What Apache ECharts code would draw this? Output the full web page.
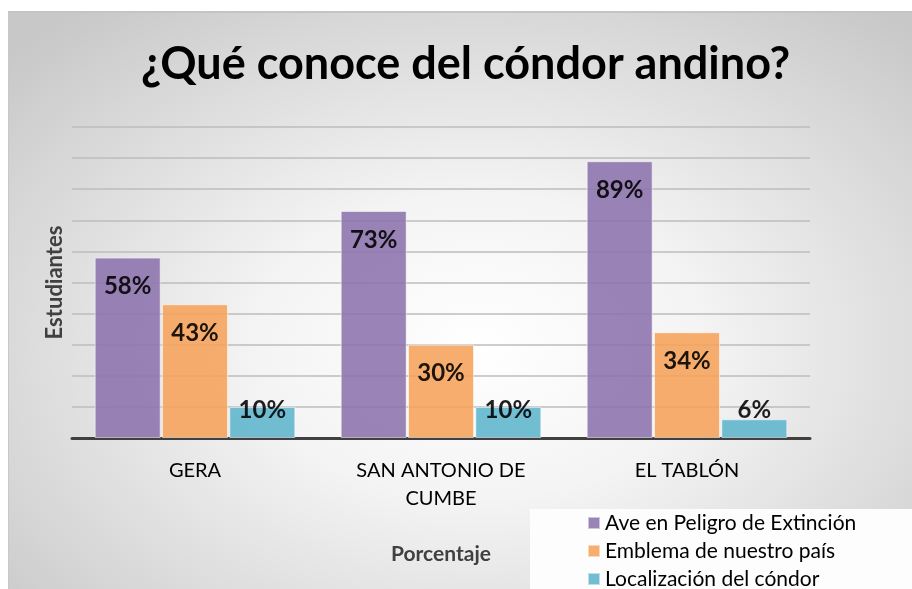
<!DOCTYPE html>
<html>
<head>
<meta charset="utf-8">
<script src="https://cdn.jsdelivr.net/npm/echarts@6/dist/echarts.min.js"></script>
<style>
  html, body { margin: 0; padding: 0; background: #fff; }
  #wrap { position: relative; width: 912px; height: 589px; overflow: hidden; }
  #bg {
    position: absolute; left: 8px; top: 11px; right: 0; bottom: 0;
    border-top: 2px solid #c4c4c4; border-left: 1px solid #c8c8c8;
    background: radial-gradient(ellipse 70% 75% at 52% 58%, #ffffff 0%, #f4f4f4 35%, #d6d6d6 80%, #c8c8c8 100%);
  }
  #main { position: absolute; left: 0; top: 0; width: 912px; height: 589px; }
</style>
</head>
<body>
<div id="wrap">
  <div id="bg"></div>
  <div id="main"></div>
</div>
<script>
// datos del gráfico
var categorias = ['GERA', 'SAN ANTONIO DE\nCUMBE', 'EL TABLÓN'];
var seriesNombres = ['Ave en Peligro de Extinción', 'Emblema de nuestro país', 'Localización del cóndor'];
var avePeligro = [58, 73, 89];
var emblema = [43, 30, 34];
var localizacion = [10, 10, 6];
var colores = ['#8c72ad', '#f5a25a', '#5db4cb'];

var chart = echarts.init(document.getElementById('main'), null, { renderer: 'canvas' });

var pxPorUnidad = 311 / 100; // alto del área / máximo del eje

// etiqueta dentro del extremo; si la barra es corta, se queda arriba del eje
function datos(valores) {
  return valores.map(function (v) {
    var h = v * pxPorUnidad;
    return {
      value: v,
      label: { distance: Math.min(17, h - 40) }
    };
  });
}

function serie(nombre, valores, color) {
  return {
    name: nombre,
    type: 'bar',
    barWidth: 66,
    barGap: '2%',
    data: datos(valores),
    itemStyle: {
      color: color,
      opacity: 0.88,
      borderColor: 'rgba(255,255,255,0.6)',
      borderWidth: 1
    },
    label: {
      show: true,
      position: 'insideTop',
      formatter: '{c}%',
      color: '#000',
      fontFamily: 'Lato',
      fontWeight: 'bold',
      fontSize: 24
    }
  };
}

var option = {
  backgroundColor: 'transparent',
  animation: false,
  title: {
    text: '¿Qué conoce del cóndor andino?',
    left: 136,
    top: 37,
    textStyle: {
      fontFamily: 'Lato',
      fontWeight: 'bold',
      fontSize: 45,
      color: '#000'
    }
  },
  graphic: [{
    type: 'rect',
    shape: { x: 530, y: 509, width: 382, height: 80 },
    style: { fill: '#fdfdfd' }
  }],
  legend: {
    orient: 'vertical',
    left: 587,
    top: 512,
    height: 120,
    padding: 0,
    itemWidth: 12,
    itemHeight: 12,
    itemGap: 6,
    icon: 'rect',
    data: seriesNombres,
    textStyle: {
      fontFamily: 'Lato',
      fontSize: 21,
      lineHeight: 22,
      color: '#000'
    }
  },
  grid: {
    left: 72,
    right: 102,
    top: 127,
    bottom: 151
  },
  xAxis: {
    type: 'category',
    data: categorias,
    name: 'Porcentaje',
    nameLocation: 'middle',
    nameGap: 106,
    nameTextStyle: {
      fontFamily: 'Lato',
      fontWeight: 'bold',
      fontSize: 21,
      color: '#404040'
    },
    axisLine: { lineStyle: { color: '#404040', width: 3 } },
    axisTick: { show: false },
    axisLabel: {
      margin: 19,
      fontFamily: 'Lato',
      fontSize: 20,
      lineHeight: 28,
      color: '#000'
    }
  },
  yAxis: {
    type: 'value',
    min: 0,
    max: 100,
    interval: 10,
    name: 'Estudiantes',
    nameLocation: 'middle',
    nameGap: 6,
    nameTextStyle: {
      fontFamily: 'Lato',
      fontWeight: 'bold',
      fontSize: 22,
      color: '#404040'
    },
    axisLabel: { show: false },
    axisTick: { show: false },
    axisLine: { show: false },
    splitLine: { lineStyle: { color: '#bdbdbd', width: 1.5 } }
  },
  series: [
    serie(seriesNombres[0], avePeligro, colores[0]),
    serie(seriesNombres[1], emblema, colores[1]),
    serie(seriesNombres[2], localizacion, colores[2])
  ]
};

chart.setOption(option);
</script>
</body>
</html>
